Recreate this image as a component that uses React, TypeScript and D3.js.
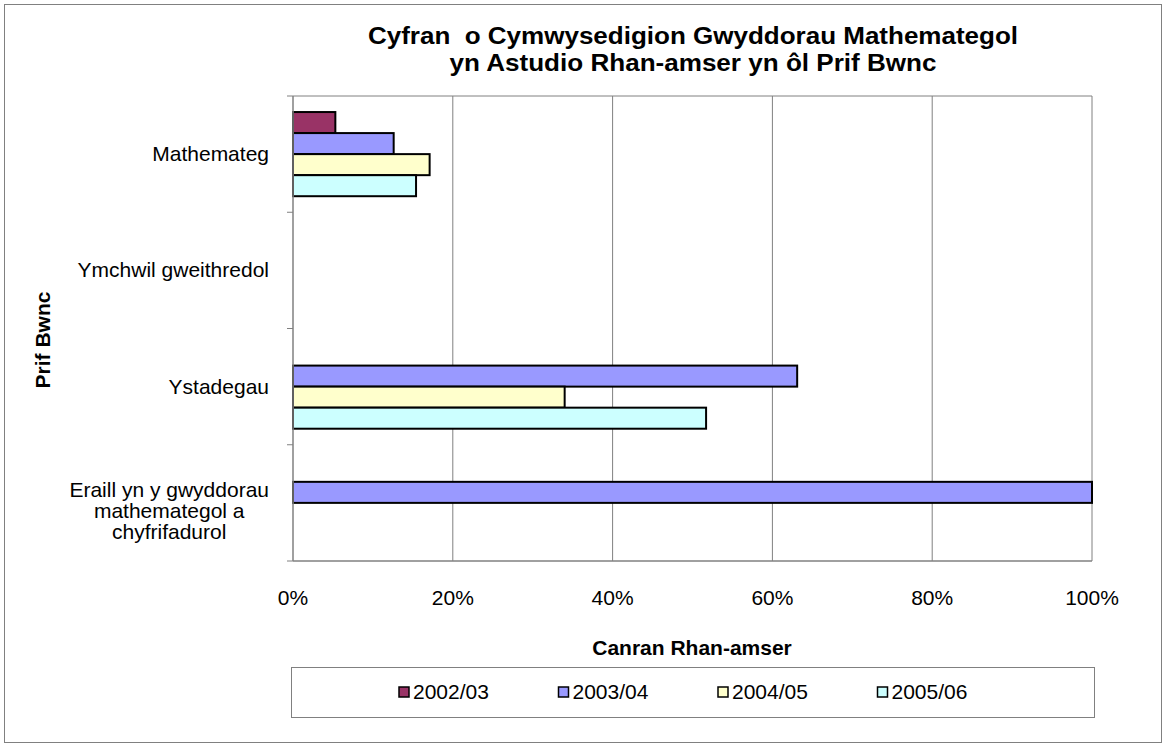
import React from "react";
import * as d3 from "d3";

const categories: string[][] = [
  ["Mathemateg"],
  ["Ymchwil gweithredol"],
  ["Ystadegau"],
  ["Eraill yn y gwyddorau", "mathemategol a", "chyfrifadurol"],
];
const seriesNames = ["2002/03", "2003/04", "2004/05", "2005/06"];
const seriesColors = ["#993366", "#9999FF", "#FFFFCC", "#CCFFFF"];
const s2002 = [5.3, 0, 0, 0];
const s2003 = [12.6, 0, 63.1, 100];
const s2004 = [17.1, 0, 34.0, 0];
const s2005 = [15.4, 0, 51.7, 0];
const seriesValues = [s2002, s2003, s2004, s2005];
const xTicks = [0, 20, 40, 60, 80, 100];
const titleLines = ["Cyfran  o Cymwysedigion Gwyddorau Mathemategol", "yn Astudio Rhan-amser yn ôl Prif Bwnc"];

const FONT = "Arial, 'Liberation Sans', sans-serif";

function measure(text: string, size: number, weight = "normal") {
  const c = document.createElement("canvas").getContext("2d")!;
  c.font = `${weight} ${size}px Arial, 'Liberation Sans', sans-serif`;
  return c.measureText(text).width;
}

export default function App() {
  const W = 1166, H = 747;
  const left = 293, right = 1092, top = 96, bottom = 561;
  const x = d3.scaleLinear().domain([0, 100]).range([left, right]);
  const y = d3.scaleBand<number>().domain(d3.range(categories.length)).range([top, bottom]);
  const bw = y.bandwidth();
  const inner = d3.scaleBand<number>().domain(d3.range(seriesNames.length)).range([bw * 0.138, bw * 0.862]);
  const LF = 21;

  return (
    <svg width={W} height={H} style={{ position: "absolute", left: 0, top: 0, fontFamily: FONT }}>
      <rect x={4.5} y={4.5} width={1157} height={738} fill="#fff" stroke="#808080" strokeWidth={1} />
      {titleLines.map((t, i) => (
        <text
          key={i}
          x={693}
          y={44 + i * 27}
          textAnchor="middle"
          fontSize={23}
          fontWeight="bold"
          textLength={measure(t, 26, "bold")}
          lengthAdjust="spacingAndGlyphs"
          style={{ whiteSpace: "pre" }}
        >
          {t}
        </text>
      ))}
      {xTicks.slice(1).map((t) => (
        <line key={t} x1={x(t)} x2={x(t)} y1={top} y2={bottom} stroke="#808080" strokeWidth={1} />
      ))}
      <line x1={left} x2={right} y1={top} y2={top} stroke="#808080" strokeWidth={1} />
      <line x1={left} x2={right} y1={bottom} y2={bottom} stroke="#808080" strokeWidth={1.5} />
      {categories.map((_, ci) =>
        seriesValues.map((vals, si) =>
          vals[ci] > 0 ? (
            <rect
              key={`${ci}-${si}`}
              x={x(0)}
              y={(y(ci) as number) + (inner(si) as number)}
              width={x(vals[ci]) - x(0)}
              height={inner.bandwidth()}
              fill={seriesColors[si]}
              stroke="#000"
              strokeWidth={2}
            />
          ) : null
        )
      )}
      <line x1={left} x2={left} y1={top} y2={bottom} stroke="#808080" strokeWidth={1.5} />
      {d3.range(categories.length + 1).map((i) => {
        const yy = top + i * bw;
        return <line key={i} x1={left - 6} x2={left} y1={yy} y2={yy} stroke="#808080" strokeWidth={1} />;
      })}
      {categories.map((lines, ci) => {
        const cy = (y(ci) as number) + bw / 2;
        const lh = 21;
        const y0 = cy - ((lines.length - 1) * lh) / 2 + (lines.length > 1 ? 8 : 0);
        const maxW = Math.max(...lines.map((l) => measure(l, LF)));
        const cx = 269 - maxW / 2;
        return (
          <text key={ci} textAnchor="middle" fontSize={LF} fill="#000">
            {lines.map((l, li) => (
              <tspan key={li} x={cx} y={y0 + li * lh + 7}>
                {l}
              </tspan>
            ))}
          </text>
        );
      })}
      {xTicks.map((t) => (
        <text key={t} x={x(t)} y={605} textAnchor="middle" fontSize={LF}>
          {t}%
        </text>
      ))}
      <text x={692} y={655} textAnchor="middle" fontSize={LF} fontWeight="bold">
        Canran Rhan-amser
      </text>
      <text transform="translate(50,340) rotate(-90)" textAnchor="middle" fontSize={LF} fontWeight="bold">
        Prif Bwnc
      </text>
      <rect x={291.5} y={667.5} width={803} height={50} fill="#fff" stroke="#808080" strokeWidth={1} />
      {seriesNames.map((s, i) => {
        const lx = 399 + i * 159.5;
        return (
          <g key={s}>
            <rect x={lx} y={687} width={10} height={10} fill={seriesColors[i]} stroke="#000" strokeWidth={1.5} />
            <text x={lx + 14} y={699} fontSize={LF}>
              {s}
            </text>
          </g>
        );
      })}
    </svg>
  );
}
